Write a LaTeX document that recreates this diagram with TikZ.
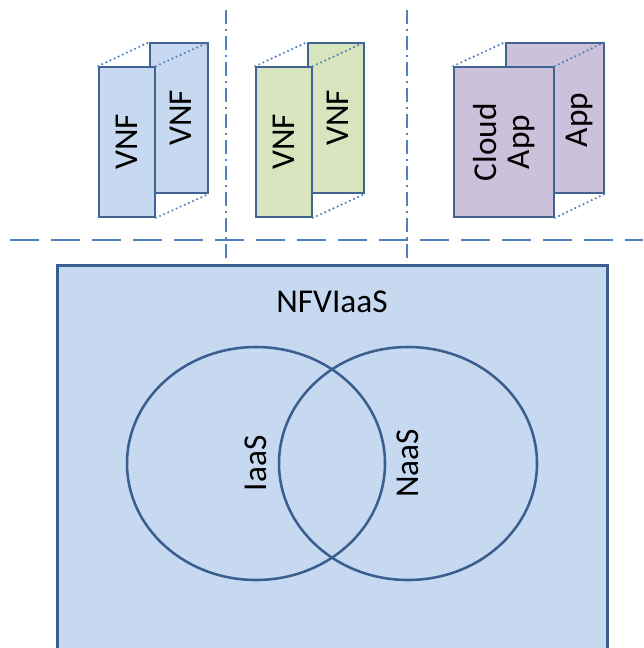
\documentclass[tikz,border=0pt]{standalone}
\usepackage{fontspec}
\setmainfont{Carlito}
\usepackage{tikz}
\usetikzlibrary{shapes.geometric}
\definecolor{boxline}{HTML}{41638F}
\definecolor{sepline}{HTML}{4F81BD}
\definecolor{vnfblue}{HTML}{C6D9F1}
\definecolor{vnfgreen}{HTML}{D7E4BD}
\definecolor{apppurple}{HTML}{CCC1DA}
\definecolor{infrafill}{HTML}{C6D9F1}
\definecolor{infraline}{HTML}{3A5E8E}
\tikzset{
  vm/.style={draw=boxline, line width=1.3pt, minimum height=112.5pt, inner sep=0pt},
  lbl/.style={rotate=90, font=\fontsize{25}{25}\selectfont, align=center, inner sep=0pt},
  link/.style={sepline, line width=1.8pt, line cap=round, dash pattern=on 0pt off 3.4pt},
  venn/.style={ellipse, draw=infraline, line width=1.9pt, minimum width=193.5pt, minimum height=174.75pt, inner sep=0pt},
}

\begin{document}
\begin{tikzpicture}[x=0.75pt, y=-0.75pt]
      \useasboundingbox (0,0) rectangle (643,648);
      \clip (0,0) rectangle (643,648);

      \node[vm, fill=vnfblue, minimum width=43.5pt] (b1) at (179,118) {};
      \node[vm, fill=vnfblue, minimum width=42pt] (f1) at (127,142) {};
      \node[vm, fill=vnfgreen, minimum width=42pt] (b2) at (336,118) {};
      \node[vm, fill=vnfgreen, minimum width=42pt] (f2) at (284,142) {};
      \node[vm, fill=apppurple, minimum width=73.5pt] (b3) at (555,118) {};
      \node[vm, fill=apppurple, minimum width=75pt] (f3) at (504,142) {};

      \node[lbl] (f1t) at (f1) {VNF};
      \node[lbl] (b1t) at (181,118) {VNF};
      \node[lbl] (f2t) at (f2) {VNF};
      \node[lbl] (b2t) at (338,118) {VNF};
      \node[lbl] (f3t) at (f3) {Cloud\\App};
      \node[lbl] (b3t) at (579,120) {App};

      \foreach \i in {1,2,3} {
        \draw[link] (f\i.north west) -- (b\i.north west);
        \draw[link] (f\i.north east) -- (b\i.north east);
        \draw[link] (f\i.south east) -- (b\i.south east);
      }

      \coordinate (s1) at (226,10);
      \coordinate (e1) at (226,262);
      \coordinate (s2) at (407,10);
      \coordinate (e2) at (407,262);
      \coordinate (hl) at (0,240);
      \coordinate (hr) at (643,240);
      \draw[sepline, line width=0.9pt, dash pattern=on 10.5pt off 3.75pt on 1.5pt off 3.75pt] (s1) -- (e1);
      \draw[sepline, line width=0.9pt, dash pattern=on 10.5pt off 3.75pt on 1.5pt off 3.75pt] (s2) -- (e2);
      \draw[sepline, line width=2.2pt, dash pattern=on 21.75pt off 9pt, dash phase=22.9pt] (hl) -- (hr);

      \node[draw=infraline, fill=infrafill, line width=2.25pt, minimum width=412.5pt, minimum height=330pt, inner sep=0pt] (nfvi) at (332,485) {};
      \node[font=\fontsize{25}{25}\selectfont] (nfvit) at (332,302) {NFVIaaS};

      \node[venn] (iaas) at (256,463.5) {};
      \node[venn] (naas) at (408,463.5) {};
      \node[lbl] (iaast) at (iaas) {IaaS};
      \node[lbl] (naast) at (naas) {NaaS};
\end{tikzpicture}
\end{document}
